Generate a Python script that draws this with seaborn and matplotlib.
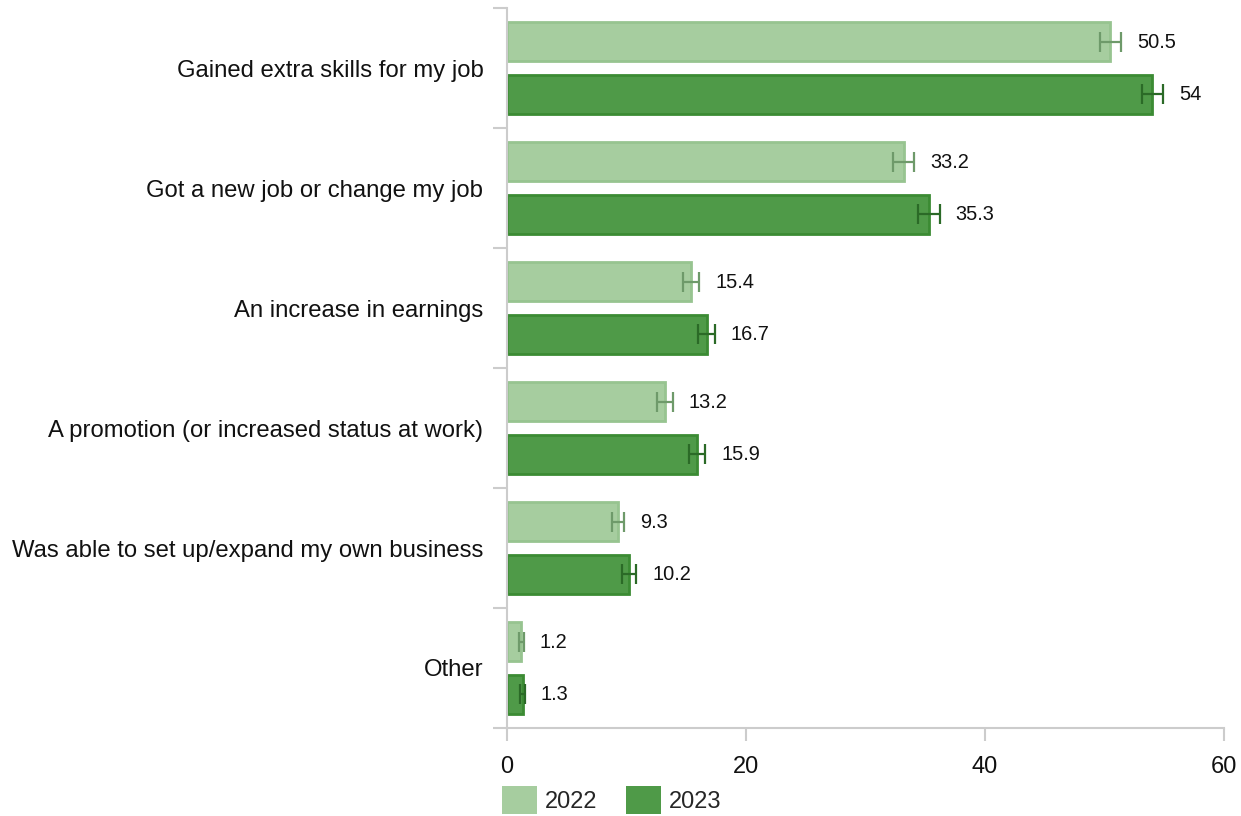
import matplotlib
matplotlib.use("Agg")
import matplotlib.pyplot as plt
import seaborn as sns
import pandas as pd
import numpy as np

categories = [
    "Gained extra skills for my job",
    "Got a new job or change my job",
    "An increase in earnings",
    "A promotion (or increased status at work)",
    "Was able to set up/expand my own business",
    "Other",
]
years = ["2022", "2023"]
values_2022 = [50.5, 33.2, 15.4, 13.2, 9.3, 1.2]
values_2023 = [54.0, 35.3, 16.7, 15.9, 10.2, 1.3]
err_2022 = [0.9, 0.9, 0.7, 0.65, 0.5, 0.2]
err_2023 = [0.9, 0.9, 0.7, 0.7, 0.6, 0.2]
labels_2022 = ["50.5", "33.2", "15.4", "13.2", "9.3", "1.2"]
labels_2023 = ["54", "35.3", "16.7", "15.9", "10.2", "1.3"]
x_ticks = [0, 20, 40, 60]

sns.set_theme(style="white")
plt.rcParams["font.family"] = ["Liberation Sans", "DejaVu Sans"]

df = pd.DataFrame({
    "category": categories * 2,
    "year": [years[0]] * len(categories) + [years[1]] * len(categories),
    "value": values_2022 + values_2023,
})

fill_colors = {"2022": "#a6cd9f", "2023": "#4f9a48"}
edge_colors = {"2022": "#97c490", "2023": "#3b8b33"}
err_colors = {"2022": "#6e9a6a", "2023": "#2b6a27"}

fig = plt.figure(figsize=(12.41, 8.16), dpi=100)
ax = fig.add_axes([507 / 1241, 1 - 728 / 816, (1224 - 507) / 1241, (728 - 8) / 816])

sns.barplot(data=df, y="category", x="value", hue="year", order=categories,
            hue_order=years, palette=fill_colors, saturation=1, width=0.867, gap=0.25,
            errorbar=None, orient="h", ax=ax, legend=True)

# style bars, add error bars and labels
for cont, yr, errs, labs in zip(ax.containers, years,
                                [err_2022, err_2023], [labels_2022, labels_2023]):
    ys = []
    xs = []
    for patch in cont.patches:
        patch.set_edgecolor(edge_colors[yr])
        patch.set_linewidth(2.0)
        ys.append(patch.get_y() + patch.get_height() / 2)
        xs.append(patch.get_width())
    ax.errorbar(xs, ys, xerr=errs, fmt="none", ecolor=err_colors[yr],
                elinewidth=1.6, capsize=7.2, capthick=1.6, zorder=5)
    for x, y, e, lab in zip(xs, ys, errs, labs):
        ax.annotate(lab, xy=(x + e, y), xytext=(11.5, -0.5), textcoords="offset points",
                    va="center", ha="left", fontsize=14.4, color="#111111")

ax.set_xlim(0, 60)
ax.set_ylim(len(categories) - 0.5, -0.5)
ax.set_xticks(x_ticks)
ax.set_xticklabels([str(t) for t in x_ticks], fontsize=17, color="#111111")
ax.set_yticks(range(len(categories)))
ax.set_yticklabels(categories, fontsize=17.2, color="#111111")
ax.tick_params(axis="y", length=0, pad=17)
ax.set_yticks(np.arange(-0.5, len(categories), 1), minor=True)
ax.tick_params(axis="y", which="minor", length=10, width=1.5, color="#cccccc", left=True)
ax.tick_params(axis="x", length=9, width=1.5, color="#cccccc", bottom=True, pad=11)
ax.set_xlabel("")
ax.set_ylabel("")
for side in ["top", "right"]:
    ax.spines[side].set_visible(False)
for side in ["left", "bottom"]:
    ax.spines[side].set_color("#cccccc")
    ax.spines[side].set_linewidth(1.5)
ax.grid(False)

leg = ax.get_legend()
handles = leg.legend_handles
leg.remove()
for h, yr in zip(handles, years):
    h.set_edgecolor("none")
    h.set_facecolor(fill_colors[yr])
fig.legend(handles, years, loc="center left", bbox_to_anchor=(481 / 1241, 1 - 800 / 816),
           ncol=2, frameon=False, fontsize=17, handlelength=1.48, handleheight=1.5,
           columnspacing=1.2, handletextpad=0.33)

fig.savefig("out.png", dpi=100)
